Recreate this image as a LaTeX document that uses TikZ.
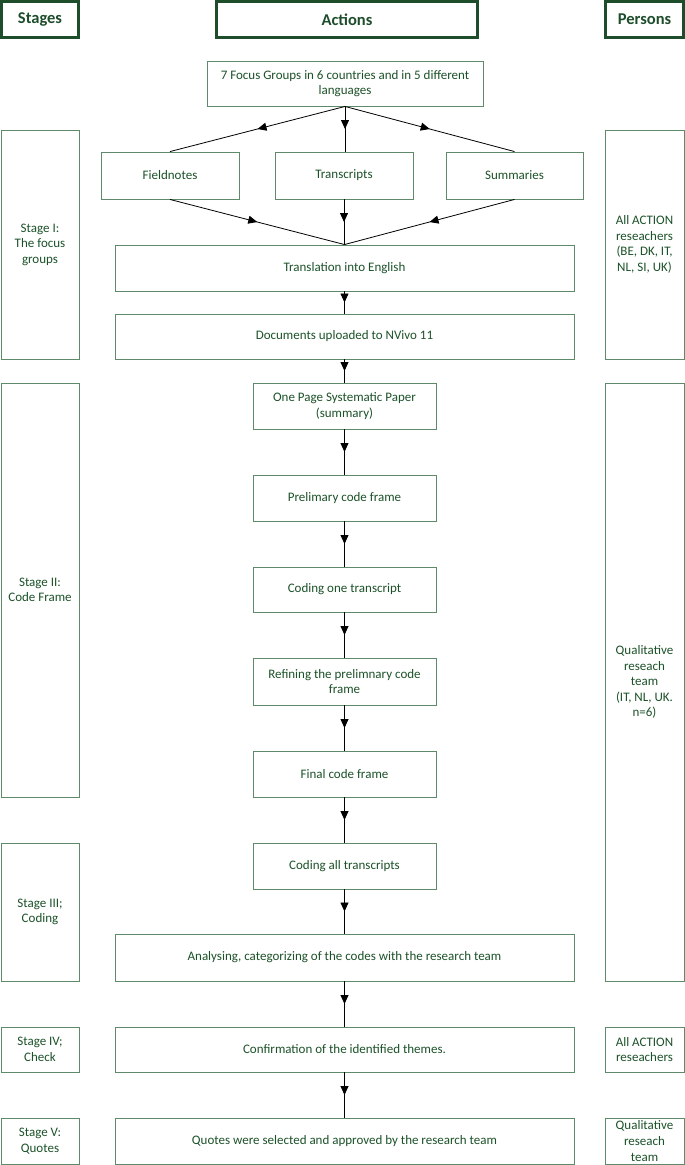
\documentclass[tikz,border=0pt]{standalone}
\usepackage{fontspec}
\setmainfont{Carlito}
\usetikzlibrary{arrows.meta,decorations.markings}
\definecolor{txtgreen}{HTML}{1C5229}
\definecolor{boxgreen}{HTML}{5E8A6B}
\definecolor{headgreen}{HTML}{1E4D2B}
\begin{document}
\begin{tikzpicture}[x=1pt,y=-1pt,
  every node/.style={font=\fontsize{13}{15.6}\selectfont, text=txtgreen, align=center, inner sep=0pt},
  box/.style={draw=boxgreen, line width=0.9pt, fill=white},
  headbox/.style={draw=headgreen, line width=2.4pt, font=\fontsize{16.5}{18}\selectfont\bfseries, text=headgreen},
  link/.style={draw=black, line width=0.8pt, postaction={decorate},
    decoration={markings, mark=at position 0.5 with {\arrow{Triangle[length=9pt,width=8pt]}}}}
]
\useasboundingbox (0,0) rectangle (685,1165);
% headers
\node[headbox, minimum width=77, minimum height=36] (hs) at (40,19.5) {Stages};
\node[headbox, minimum width=261, minimum height=36] (ha) at (347,19.5) {Actions};
\node[headbox, minimum width=78, minimum height=36] (hp) at (644.5,19.5) {Persons};
% stages
\node[box, minimum width=78, minimum height=229] (s1) at (40,244.5) {Stage I:\\The focus\\groups};
\node[box, minimum width=78, minimum height=414] (s2) at (40,590) {Stage II:\\Code Frame};
\node[box, minimum width=78, minimum height=138] (s3) at (40,912) {Stage III;\\Coding};
\node[box, minimum width=78, minimum height=45] (s4) at (40,1049.5) {Stage IV;\\Check};
\node[box, minimum width=78, minimum height=46] (s5) at (40,1141) {Stage V:\\Quotes};
% persons
\node[box, minimum width=79, minimum height=229] (p1) at (644.5,244.5) {All ACTION\\reseachers\\(BE, DK, IT,\\NL, SI, UK)};
\node[box, minimum width=79, minimum height=598] (p2) at (644.5,682) {Qualitative\\reseach\\team\\(IT, NL, UK.\\n=6)};
\node[box, minimum width=79, minimum height=45] (p4) at (644.5,1049.5) {All ACTION\\reseachers};
\node[box, minimum width=79, minimum height=46] (p5) at (644.5,1141) {Qualitative\\reseach\\team};
% actions
\node[box, minimum width=276, minimum height=45] (fg) at (345,83.5) {7 Focus Groups in 6 countries and in 5 different\\languages};
\node[box, minimum width=138, minimum height=47] (fn) at (170,175.5) {Fieldnotes};
\node[box, minimum width=138, minimum height=47] (tr) at (344,175.5) {Transcripts};
\node[box, minimum width=137, minimum height=47] (su) at (514.5,175.5) {Summaries};
\node[box, minimum width=459, minimum height=46] (te) at (344.5,268) {Translation into English};
\node[box, minimum width=459, minimum height=45] (du) at (344.5,336.5) {Documents uploaded to NVivo 11};
\node[box, minimum width=183, minimum height=46] (op) at (344.5,406) {One Page Systematic Paper\\(summary)};
\node[box, minimum width=183, minimum height=46] (pc) at (344.5,498) {Prelimary code frame};
\node[box, minimum width=183, minimum height=45] (co) at (344.5,589.5) {Coding one transcript};
\node[box, minimum width=183, minimum height=47] (rf) at (344.5,681.5) {Refining the prelimnary code\\frame};
\node[box, minimum width=183, minimum height=46] (fc) at (344.5,774) {Final code frame};
\node[box, minimum width=183, minimum height=46] (ca) at (344.5,866) {Coding all transcripts};
\node[box, minimum width=459, minimum height=47] (an) at (344.5,957.5) {Analysing, categorizing of the codes with the research team};
\node[box, minimum width=459, minimum height=45] (cf) at (344.5,1049.5) {Confirmation of the identified themes.};
\node[box, minimum width=459, minimum height=46] (qs) at (344.5,1141) {Quotes were selected and approved by the research team};
% connectors
\path[link] (fg.south) -- (fn.north);
\path[link] (fg.south) -- (fg.south |- tr.north);
\path[link] (fg.south) -- (su.north);
\path[link] (fn.south) -- (te.north);
\path[link] (tr.south) -- (tr.south |- te.north);
\path[link] (su.south) -- (te.north);
\path[link] (te) -- (du);
\path[link] (du.south) -- (du.south |- op.north);
\path[link] (op) -- (pc);
\path[link] (pc) -- (co);
\path[link] (co) -- (rf);
\path[link] (rf) -- (fc);
\path[link] (fc) -- (ca);
\path[link] (ca) -- (an);
\path[link] (an) -- (cf);
\path[link] (cf) -- (qs);
\end{tikzpicture}
\end{document}
